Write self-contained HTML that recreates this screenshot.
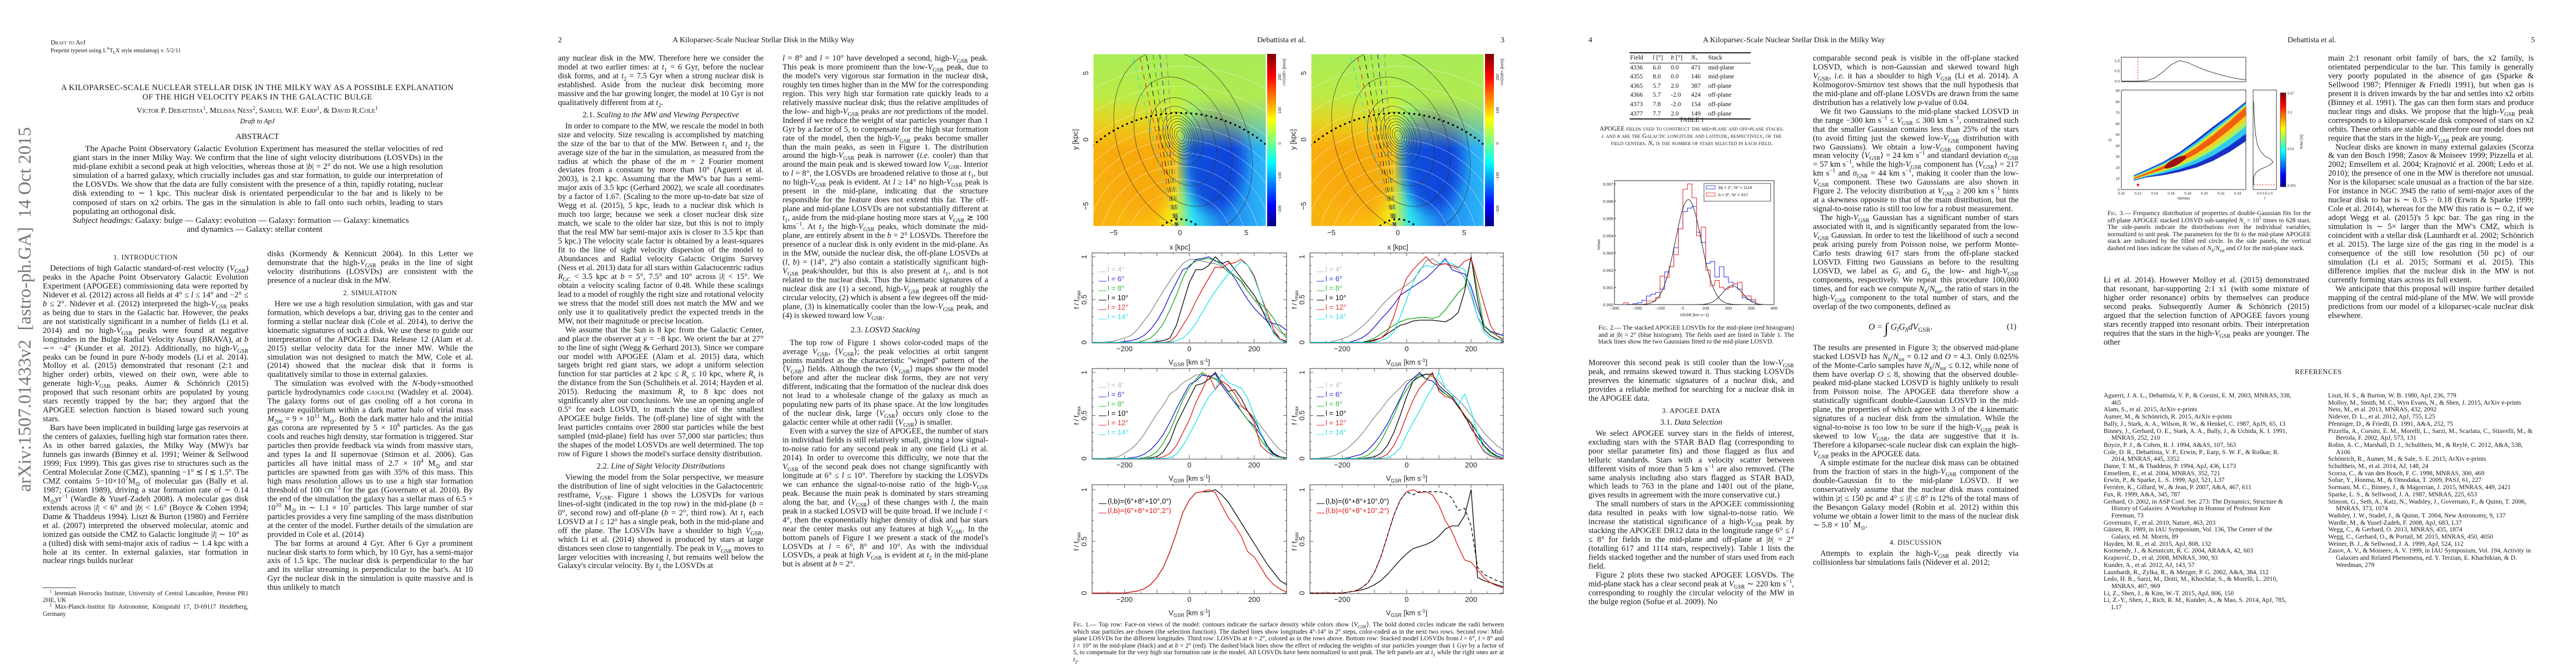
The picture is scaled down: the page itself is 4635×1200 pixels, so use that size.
<!DOCTYPE html>
<html><head><meta charset="utf-8">
<style>
html,body{margin:0;padding:0;background:#fff;}
body{width:4635px;height:1200px;position:relative;overflow:hidden;font-family:"Liberation Serif",serif;color:#151515;}
.abs{position:absolute;}
.hdr{position:absolute;top:65px;font-size:14px;white-space:nowrap;}
.col{position:absolute;width:370px;font-size:14.6px;line-height:15.95px;text-align:justify;overflow:hidden;hyphens:auto;}
.col p{margin:0;text-indent:13px;}
.col p.ni{text-indent:0}
.sec{text-align:center;font-size:12.5px;letter-spacing:0.6px;margin:5px 0 5px 0;line-height:16px;}
.sub{text-align:center;margin:5px 0;line-height:16px;}
sup,sub{font-size:70%;line-height:0;}
.cap{position:absolute;font-size:11.6px;line-height:12.6px;text-align:justify;}
.sc{font-variant:small-caps;}
.refs{position:absolute;width:340px;font-size:11.6px;line-height:12.7px;}
.refs div{padding-left:14px;text-indent:-14px;}
svg text{font-family:"Liberation Sans",sans-serif;}
</style></head>
<body>

<!-- arXiv stamp -->
<div class="abs" style="left:-275px;top:545px;width:640px;height:40px;transform:rotate(-90deg);font-size:33px;color:#777;white-space:nowrap;text-align:center;line-height:40px;">arXiv:1507.01433v2&nbsp; [astro-ph.GA]&nbsp; 14 Oct 2015</div>

<!-- PAGE 1 -->
<div class="abs" style="left:91px;top:69px;font-size:12px;line-height:14px;"><span class="sc">Draft to ApJ</span><br><span style="font-size:10.5px">Preprint typeset using L<sup>A</sup>T<sub>E</sub>X style emulateapj v. 5/2/11</span></div>
<div class="abs" style="left:60px;top:150px;width:806px;text-align:center;font-size:14.6px;line-height:16.5px;letter-spacing:0.35px;">A KILOPARSEC-SCALE NUCLEAR STELLAR DISK IN THE MILKY WAY AS A POSSIBLE EXPLANATION<br>OF THE HIGH VELOCITY PEAKS IN THE GALACTIC BULGE</div>
<div class="abs" style="left:60px;top:192px;width:806px;text-align:center;font-size:14px;"><span class="sc">Victor P. Debattista<sup>1</sup>, Melissa Ness<sup>2</sup>, Samuel W.F. Earp<sup>1</sup>, &amp; David R.Cole<sup>1</sup></span></div>
<div class="abs" style="left:60px;top:211px;width:806px;text-align:center;font-size:12.5px;font-style:italic;">Draft to ApJ</div>
<div class="abs" style="left:60px;top:238px;width:806px;text-align:center;font-size:15px;">ABSTRACT</div>
<div class="abs" style="left:131px;top:260px;width:666px;font-size:15.2px;line-height:16.1px;text-align:justify;">
<div style="text-indent:22px">The Apache Point Observatory Galactic Evolution Experiment has measured the stellar velocities of red giant stars in the inner Milky Way. We confirm that the line of sight velocity distributions (LOSVDs) in the mid-plane exhibit a second peak at high velocities, whereas those at |<i>b</i>| = 2° do not. We use a high resolution simulation of a barred galaxy, which crucially includes gas and star formation, to guide our interpretation of the LOSVDs. We show that the data are fully consistent with the presence of a thin, rapidly rotating, nuclear disk extending to ∼ 1 kpc. This nuclear disk is orientated perpendicular to the bar and is likely to be composed of stars on x2 orbits. The gas in the simulation is able to fall onto such orbits, leading to stars populating an orthogonal disk.</div>
<div style="text-align:justify;"><i>Subject headings:</i> Galaxy: bulge — Galaxy: evolution — Galaxy: formation — Galaxy: kinematics</div>
<div style="padding-left:205px;">and dynamics — Galaxy: stellar content</div>
</div>

<div class="col" style="left:77px;top:450px;height:600px;font-size:14.7px;">
<div class="sec">1. INTRODUCTION</div>
<p>Detections of high Galactic standard-of-rest velocity (<i>V</i><sub>GSR</sub>) peaks in the Apache Point Observatory Galactic Evolution Experiment (APOGEE) commissioning data were reported by Nidever et al. (2012) across all fields at 4° ≤ <i>l</i> ≤ 14° and −2° ≤ <i>b</i> ≤ 2°. Nidever et al. (2012) interpreted the high-<i>V</i><sub>GSR</sub> peaks as being due to stars in the Galactic bar. However, the peaks are not statistically significant in a number of fields (Li et al. 2014) and no high-<i>V</i><sub>GSR</sub> peaks were found at negative longitudes in the Bulge Radial Velocity Assay (BRAVA), at <i>b</i> ∼= −4° (Kunder et al. 2012). Additionally, no high-<i>V</i><sub>GSR</sub> peaks can be found in pure <i>N</i>-body models (Li et al. 2014). Molloy et al. (2015) demonstrated that resonant (2:1 and higher order) orbits, viewed on their own, were able to generate high-<i>V</i><sub>GSR</sub> peaks. Aumer &amp; Schönrich (2015) proposed that such resonant orbits are populated by young stars recently trapped by the bar; they argued that the APOGEE selection function is biased toward such young stars.</p>
<p>Bars have been implicated in building large gas reservoirs at the centers of galaxies, fuelling high star formation rates there. As in other barred galaxies, the Milky Way (MW)'s bar funnels gas inwards (Binney et al. 1991; Weiner &amp; Sellwood 1999; Fux 1999). This gas gives rise to structures such as the Central Molecular Zone (CMZ), spanning −1° ≲ <i>l</i> ≲ 1.5°. The CMZ contains 5−10×10<sup>7</sup>M<sub>⊙</sub> of molecular gas (Bally et al. 1987; Güsten 1989), driving a star formation rate of ∼ 0.14 M<sub>⊙</sub>yr<sup>−1</sup> (Wardle &amp; Yusef-Zadeh 2008). A molecular gas disk extends across |<i>l</i>| &lt; 6° and |<i>b</i>| &lt; 1.6° (Boyce &amp; Cohen 1994; Dame &amp; Thaddeus 1994). Liszt &amp; Burton (1980) and Ferrière et al. (2007) interpreted the observed molecular, atomic and ionized gas outside the CMZ to Galactic longitude |<i>l</i>| ∼ 10° as a (tilted) disk with semi-major axis of radius ∼ 1.4 kpc with a hole at its center. In external galaxies, star formation in nuclear rings builds nuclear</p>
</div>
<div class="abs" style="left:77px;top:1057px;width:60px;border-top:1px solid #444;"></div>
<div class="abs" style="left:77px;top:1062px;width:370px;font-size:11.2px;line-height:12.2px;text-align:justify;">
<div style="text-indent:12px"><sup>1</sup> Jeremiah Horrocks Institute, University of Central Lancashire, Preston PR1 2HE, UK</div>
<div style="text-indent:12px"><sup>2</sup> Max-Planck-Institut für Astronomie, Königstuhl 17, D-69117 Heidelberg, Germany</div></div>

<div class="col" style="left:481px;top:450px;height:662px;font-size:14.7px;">
<p class="ni">disks (Kormendy &amp; Kennicutt 2004). In this Letter we demonstrate that the high-<i>V</i><sub>GSR</sub> peaks in the line of sight velocity distributions (LOSVDs) are consistent with the presence of a nuclear disk in the MW.</p>
<div class="sec">2. SIMULATION</div>
<p>Here we use a high resolution simulation, with gas and star formation, which develops a bar, driving gas to the center and forming a stellar nuclear disk (Cole et al. 2014), to derive the kinematic signatures of such a disk. We use these to guide our interpretation of the APOGEE Data Release 12 (Alam et al. 2015) stellar velocity data for the inner MW. While the simulation was not designed to match the MW, Cole et al. (2014) showed that the nuclear disk that it forms is qualitatively similar to those in external galaxies.</p>
<p>The simulation was evolved with the <i>N</i>-body+smoothed particle hydrodynamics code <span class="sc">gasoline</span> (Wadsley et al. 2004). The galaxy forms out of gas cooling off a hot corona in pressure equilibrium within a dark matter halo of virial mass <i>M</i><sub>200</sub> = 9 × 10<sup>11</sup> M<sub>⊙</sub>. Both the dark matter halo and the initial gas corona are represented by 5 × 10<sup>6</sup> particles. As the gas cools and reaches high density, star formation is triggered. Star particles then provide feedback via winds from massive stars, and types Ia and II supernovae (Stinson et al. 2006). Gas particles all have initial mass of 2.7 × 10<sup>4</sup> M<sub>⊙</sub> and star particles are spawned from gas with 35% of this mass. This high mass resolution allows us to use a high star formation threshold of 100 cm<sup>−3</sup> for the gas (Governato et al. 2010). By the end of the simulation the galaxy has a stellar mass of 6.5 × 10<sup>10</sup> M<sub>⊙</sub> in ∼ 1.1 × 10<sup>7</sup> particles. This large number of star particles provides a very fine sampling of the mass distribution at the center of the model. Further details of the simulation are provided in Cole et al. (2014)</p>
<p>The bar forms at around 4 Gyr. After 6 Gyr a prominent nuclear disk starts to form which, by 10 Gyr, has a semi-major axis of 1.5 kpc. The nuclear disk is perpendicular to the bar and its stellar streaming is perpendicular to the bar's. At 10 Gyr the nuclear disk in the simulation is quite massive and is thus unlikely to match</p>
</div>

<!-- PAGE 2/3 headers -->
<div class="hdr" style="left:1004px;">2</div>
<div class="hdr" style="left:1210px;">A Kiloparsec-Scale Nuclear Stellar Disk in the Milky Way</div>
<div class="hdr" style="left:2262px;">Debattista et al.</div>
<div class="hdr" style="left:2700px;">3</div>

<div class="col" style="left:1004px;top:98px;height:1016px;">
<p class="ni">any nuclear disk in the MW. Therefore here we consider the model at two earlier times: at <i>t</i><sub>1</sub> = 6 Gyr, before the nuclear disk forms, and at <i>t</i><sub>2</sub> = 7.5 Gyr when a strong nuclear disk is established. Aside from the nuclear disk becoming more massive and the bar growing longer, the model at 10 Gyr is not qualitatively different from at <i>t</i><sub>2</sub>.</p>
<div class="sub">2.1. <i>Scaling to the MW and Viewing Perspective</i></div>
<p>In order to compare to the MW, we rescale the model in both size and velocity. Size rescaling is accomplished by matching the size of the bar to that of the MW. Between <i>t</i><sub>1</sub> and <i>t</i><sub>2</sub> the average size of the bar in the simulation, as measured from the radius at which the phase of the <i>m</i> = 2 Fourier moment deviates from a constant by more than 10° (Aguerri et al. 2003), is 2.1 kpc. Assuming that the MW's bar has a semi-major axis of 3.5 kpc (Gerhard 2002), we scale all coordinates by a factor of 1.67. (Scaling to the more up-to-date bar size of Wegg et al. (2015), 5 kpc, leads to a nuclear disk which is much too large; because we seek a closer nuclear disk size match, we scale to the older bar size, but this is not to imply that the real MW bar semi-major axis is closer to 3.5 kpc than 5 kpc.) The velocity scale factor is obtained by a least-squares fit to the line of sight velocity dispersion of the model to Abundances and Radial velocity Galactic Origins Survey (Ness et al. 2013) data for all stars within Galactocentric radius <i>R</i><sub>GC</sub> &lt; 3.5 kpc at <i>b</i> = 5°, 7.5° and 10° across |<i>l</i>| &lt; 15°. We obtain a velocity scaling factor of 0.48. While these scalings lead to a model of roughly the right size and rotational velocity we stress that the model still does not match the MW and we only use it to qualitatively predict the expected trends in the MW, not their magnitude or precise location.</p>
<p>We assume that the Sun is 8 kpc from the Galactic Center, and place the observer at <i>y</i> = −8 kpc. We orient the bar at 27° to the line of sight (Wegg &amp; Gerhard 2013). Since we compare our model with APOGEE (Alam et al. 2015) data, which targets bright red giant stars, we adopt a uniform selection function for star particles at 2 kpc ≤ <i>R</i><sub>s</sub> ≤ 10 kpc, where <i>R</i><sub>s</sub> is the distance from the Sun (Schultheis et al. 2014; Hayden et al. 2015). Reducing the maximum <i>R</i><sub>s</sub> to 8 kpc does not significantly alter our conclusions. We use an opening angle of 0.5° for each LOSVD, to match the size of the smallest APOGEE bulge fields. The (off-plane) line of sight with the least particles contains over 2800 star particles while the best sampled (mid-plane) field has over 57,000 star particles; thus the shapes of the model LOSVDs are well determined. The top row of Figure 1 shows the model's surface density distribution.</p>
<div class="sub">2.2. <i>Line of Sight Velocity Distributions</i></div>
<p>Viewing the model from the Solar perspective, we measure the distribution of line of sight velocities in the Galactocentric restframe, <i>V</i><sub>GSR</sub>. Figure 1 shows the LOSVDs for various lines-of-sight (indicated in the top row) in the mid-plane (<i>b</i> = 0°, second row) and off-plane (<i>b</i> = 2°, third row). At <i>t</i><sub>1</sub> each LOSVD at <i>l</i> ≤ 12° has a single peak, both in the mid-plane and off the plane. The LOSVDs have a shoulder to high <i>V</i><sub>GSR</sub>, which Li et al. (2014) showed is produced by stars at large distances seen close to tangentially. The peak in <i>V</i><sub>GSR</sub> moves to larger velocities with increasing <i>l</i>, but remains well below the Galaxy's circular velocity. By <i>t</i><sub>2</sub> the LOSVDs at</p>
</div>

<div class="col" style="left:1408px;top:98px;height:1016px;">
<p class="ni"><i>l</i> = 8° and <i>l</i> = 10° have developed a second, high-<i>V</i><sub>GSR</sub> peak. This peak is more prominent than the low-<i>V</i><sub>GSR</sub> peak, due to the model's very vigorous star formation in the nuclear disk, roughly ten times higher than in the MW for the corresponding region. This very high star formation rate quickly leads to a relatively massive nuclear disk; thus the relative amplitudes of the low- and high-<i>V</i><sub>GSR</sub> peaks are <i>not</i> predictions of the model. Indeed if we reduce the weight of star particles younger than 1 Gyr by a factor of 5, to compensate for the high star formation rate of the model, then the high-<i>V</i><sub>GSR</sub> peaks become smaller than the main peaks, as seen in Figure 1. The distribution around the high-<i>V</i><sub>GSR</sub> peak is narrower (<i>i.e.</i> cooler) than that around the main peak and is skewed toward low <i>V</i><sub>GSR</sub>. Interior to <i>l</i> = 8°, the LOSVDs are broadened relative to those at <i>t</i><sub>1</sub>, but no high-<i>V</i><sub>GSR</sub> peak is evident. At <i>l</i> ≥ 14° no high-<i>V</i><sub>GSR</sub> peak is present in the mid-plane, indicating that the structure responsible for the feature does not extend this far. The off-plane and mid-plane LOSVDs are not substantially different at <i>t</i><sub>1</sub>, aside from the mid-plane hosting more stars at <i>V</i><sub>GSR</sub> ≳ 100 kms<sup>−1</sup>. At <i>t</i><sub>2</sub> the high-<i>V</i><sub>GSR</sub> peaks, which dominate the mid-plane, are entirely absent in the <i>b</i> = 2° LOSVDs. Therefore the presence of a nuclear disk is only evident in the mid-plane. As in the MW, outside the nuclear disk, the off-plane LOSVDs at (<i>l</i>, <i>b</i>) = (14°, 2°) also contain a statistically significant high-<i>V</i><sub>GSR</sub> peak/shoulder, but this is also present at <i>t</i><sub>1</sub>, and is not related to the nuclear disk. Thus the kinematic signatures of a nuclear disk are (1) a second, high-<i>V</i><sub>GSR</sub> peak at roughly the circular velocity, (2) which is absent a few degrees off the mid-plane, (3) is kinematically cooler than the low-<i>V</i><sub>GSR</sub> peak, and (4) is skewed toward low <i>V</i><sub>GSR</sub>.</p>
<div class="sub" style="margin-top:9px;margin-bottom:8px">2.3. <i>LOSVD Stacking</i></div>
<p>The top row of Figure 1 shows color-coded maps of the average <i>V</i><sub>GSR</sub>, ⟨<i>V</i><sub>GSR</sub>⟩; the peak velocities at orbit tangent points manifest as the characteristic "winged" pattern of the ⟨<i>V</i><sub>GSR</sub>⟩ fields. Although the two ⟨<i>V</i><sub>GSR</sub>⟩ maps show the model before and after the nuclear disk forms, they are not very different, indicating that the formation of the nuclear disk does not lead to a wholesale change of the galaxy as much as populating new parts of its phase space. At the low longitudes of the nuclear disk, large ⟨<i>V</i><sub>GSR</sub>⟩ occurs only close to the galactic center while at other radii ⟨<i>V</i><sub>GSR</sub>⟩ is smaller.</p>
<p>Even with a survey the size of APOGEE, the number of stars in individual fields is still relatively small, giving a low signal-to-noise ratio for any second peak in any one field (Li et al. 2014). In order to overcome this difficulty, we note that the <i>V</i><sub>GSR</sub> of the second peak does not change significantly with longitude at 6° ≤ <i>l</i> ≤ 10°. Therefore by stacking the LOSVDs we can enhance the signal-to-noise ratio of the high-<i>V</i><sub>GSR</sub> peak. Because the main peak is dominated by stars streaming along the bar, and ⟨<i>V</i><sub>GSR</sub>⟩ of these changes with <i>l</i>, the main peak in a stacked LOSVD will be quite broad. If we include <i>l</i> &lt; 4°, then the exponentially higher density of disk and bar stars near the center masks out any features at high <i>V</i><sub>GSR</sub>. In the bottom panels of Figure 1 we present a stack of the model's LOSVDs at <i>l</i> = 6°, 8° and 10°. As with the individual LOSVDs, a peak at high <i>V</i><sub>GSR</sub> is evident at <i>t</i><sub>2</sub> in the mid-plane but is absent at <i>b</i> = 2°.</p>
</div>

<div class="cap" style="left:1931px;top:1118px;width:775px;"><span class="sc">Fig. 1.</span>— Top row: Face-on views of the model: contours indicate the surface density while colors show ⟨<i>V</i><sub>GSR</sub>⟩. The bold dotted circles indicate the radii between which star particles are chosen (the selection function). The dashed lines show longitudes 4°-14° in 2° steps, color-coded as in the next two rows. Second row: Mid-plane LOSVDs for the different longitudes. Third row: LOSVDs at <i>b</i> = 2°, colored as in the rows above. Bottom row: Stacked model LOSVDs from <i>l</i> = 6°, <i>l</i> = 8° and <i>l</i> = 10° in the mid-plane (black) and at <i>b</i> = 2° (red). The dashed black lines show the effect of reducing the weights of star particles younger than 1 Gyr by a factor of 5, to compensate for the very high star formation rate in the model. All LOSVDs have been normalized to unit peak. The left panels are at <i>t</i><sub>1</sub> while the right ones are at <i>t</i><sub>2</sub>.</div>

<!-- PAGE 4/5 headers -->
<div class="hdr" style="left:2858px;">4</div>
<div class="hdr" style="left:3064px;">A Kiloparsec-Scale Nuclear Stellar Disk in the Milky Way</div>
<div class="hdr" style="left:4116px;">Debattista et al.</div>
<div class="hdr" style="left:4554px;">5</div>

<!-- Table 1 -->
<div class="abs" style="left:2932px;top:94px;width:218px;border-top:2px solid #222;border-bottom:2px solid #222;font-size:11.5px;line-height:14.6px;">
<table style="border-collapse:collapse;width:100%;font-size:11.5px;">
<tr style="border-bottom:1px solid #222;"><td>Field</td><td><i>l</i> [°]</td><td><i>b</i> [°]</td><td><i>N</i><sub>*</sub></td><td>Stack</td></tr>
<tr><td>4336</td><td>6.0</td><td>0.0</td><td>471</td><td>mid-plane</td></tr>
<tr><td>4355</td><td>8.0</td><td>0.0</td><td>146</td><td>mid-plane</td></tr>
<tr><td>4365</td><td>5.7</td><td>2.0</td><td>387</td><td>off-plane</td></tr>
<tr><td>4366</td><td>5.7</td><td>-2.0</td><td>424</td><td>off-plane</td></tr>
<tr><td>4373</td><td>7.8</td><td>-2.0</td><td>154</td><td>off-plane</td></tr>
<tr><td>4377</td><td>7.7</td><td>2.0</td><td>149</td><td>off-plane</td></tr></table></div>
<div class="abs" style="left:2876px;top:210px;width:336px;text-align:center;font-size:11.4px;line-height:13px;">TABLE 1<br><span class="sc" style="display:block;margin-top:3px">APOGEE fields used to construct the mid-plane and off-plane stacks. <i>l</i> and <i>b</i> are the Galactic longitude and latitude, respectively, of the field centers. <i>N</i><sub>*</sub> is the number of stars selected in each field.</span></div>

<div class="cap" style="left:2876px;top:584px;width:352px;"><span class="sc">Fig. 2.</span>— The stacked APOGEE LOSVDs for the mid-plane (red histogram) and at |<i>b</i>| = 2° (blue histogram). The fields used are listed in Table 1. The black lines show the two Gaussians fitted to the mid-plane LOSVD.</div>

<div class="col" style="left:2858px;top:646px;height:468px;">
<p class="ni">Moreover this second peak is still cooler than the low-<i>V</i><sub>GSR</sub> peak, and remains skewed toward it. Thus stacking LOSVDs preserves the kinematic signatures of a nuclear disk, and provides a reliable method for searching for a nuclear disk in the APOGEE data.</p>
<div class="sec">3. APOGEE DATA</div>
<div class="sub" style="margin-top:0">3.1. <i>Data Selection</i></div>
<p>We select APOGEE survey stars in the fields of interest, excluding stars with the STAR BAD flag (corresponding to poor stellar parameter fits) and those flagged as flux and telluric standards. Stars with a velocity scatter between different visits of more than 5 km s<sup>−1</sup> are also removed. (The same analysis including also stars flagged as STAR BAD, which leads to 763 in the plane and 1401 out of the plane, gives results in agreement with the more conservative cut.)</p>
<p>The small numbers of stars in the APOGEE commissioning data resulted in peaks with low signal-to-noise ratio. We increase the statistical significance of a high-<i>V</i><sub>GSR</sub> peak by stacking the APOGEE DR12 data in the longitude range 6° ≤ <i>l</i> ≤ 8° for fields in the mid-plane and off-plane at |<i>b</i>| = 2° (totalling 617 and 1114 stars, respectively). Table 1 lists the fields stacked together and the number of stars used from each field.</p>
<p>Figure 2 plots these two stacked APOGEE LOSVDs. The mid-plane stack has a clear second peak at <i>V</i><sub>GSR</sub> ∼ 220 km s<sup>−1</sup>, corresponding to roughly the circular velocity of the MW in the bulge region (Sofue et al. 2009). No</p>
</div>

<div class="col" style="left:3262px;top:98px;height:1016px;">
<p class="ni">comparable second peak is visible in the off-plane stacked LOSVD, which is non-Gaussian and skewed toward high <i>V</i><sub>GSR</sub>, <i>i.e.</i> it has a shoulder to high <i>V</i><sub>GSR</sub> (Li et al. 2014). A Kolmogorov-Smirnov test shows that the null hypothesis that the mid-plane and off-plane LOSVDs are drawn from the same distribution has a relatively low <i>p</i>-value of 0.04.</p>
<p>We fit two Gaussians to the mid-plane stacked LOSVD in the range −300 km s<sup>−1</sup> ≤ <i>V</i><sub>GSR</sub> ≤ 300 km s<sup>−1</sup>, constrained such that the smaller Gaussian contains less than 25% of the stars (to avoid fitting just the skewed low-<i>V</i><sub>GSR</sub> distribution with two Gaussians). We obtain a low-<i>V</i><sub>GSR</sub> component having mean velocity ⟨<i>V</i><sub>GSR</sub>⟩ = 24 km s<sup>−1</sup> and standard deviation <i>σ</i><sub>GSR</sub> = 57 km s<sup>−1</sup>, while the high-<i>V</i><sub>GSR</sub> component has ⟨<i>V</i><sub>GSR</sub>⟩ = 217 km s<sup>−1</sup> and <i>σ</i><sub>GSR</sub> = 44 km s<sup>−1</sup>, making it cooler than the low-<i>V</i><sub>GSR</sub> component. These two Gaussians are also shown in Figure 2. The velocity distribution at <i>V</i><sub>GSR</sub> ≥ 200 km s<sup>−1</sup> hints at a skewness opposite to that of the main distribution, but the signal-to-noise ratio is still too low for a robust measurement.</p>
<p>The high-<i>V</i><sub>GSR</sub> Gaussian has a significant number of stars associated with it, and is significantly separated from the low-<i>V</i><sub>GSR</sub> Gaussian. In order to test the likelihood of such a second peak arising purely from Poisson noise, we perform Monte-Carlo tests drawing 617 stars from the off-plane stacked LOSVD. Fitting two Gaussians as before to the resulting LOSVD, we label as <i>G<sub>l</sub></i> and <i>G<sub>h</sub></i> the low- and high-<i>V</i><sub>GSR</sub> components, respectively. We repeat this procedure 100,000 times, and for each we compute <i>N<sub>h</sub></i>/<i>N</i><sub>tot</sub>, the ratio of stars in the high-<i>V</i><sub>GSR</sub> component to the total number of stars, and the overlap of the two components, defined as</p>
<div style="position:relative;height:58px;"><span style="position:absolute;left:100px;top:20px;font-size:16px;"><i>O</i> = <span style="font-size:26px;vertical-align:-6px">∫</span> <i>G<sub>l</sub>G<sub>h</sub>dV</i><sub>GSR</sub>.</span><span style="position:absolute;right:4px;top:20px;">(1)</span></div>
<p class="ni">The results are presented in Figure 3; the observed mid-plane stacked LOSVD has <i>N<sub>h</sub></i>/<i>N</i><sub>tot</sub> = 0.12 and <i>O</i> = 4.3. Only 0.025% of the Monte-Carlo samples have <i>N<sub>h</sub></i>/<i>N</i><sub>tot</sub> ≤ 0.12, while none of them have overlap <i>O</i> ≤ 8, showing that the observed double-peaked mid-plane stacked LOSVD is highly unlikely to result from Poisson noise. The APOGEE data therefore show a statistically significant double-Gaussian LOSVD in the mid-plane, the properties of which agree with 3 of the 4 kinematic signatures of a nuclear disk from the simulation. While the signal-to-noise is too low to be sure if the high-<i>V</i><sub>GSR</sub> peak is skewed to low <i>V</i><sub>GSR</sub>, the data are suggestive that it is. Therefore a kiloparsec-scale nuclear disk can explain the high-<i>V</i><sub>GSR</sub> peaks in the APOGEE data.</p>
<p>A simple estimate for the nuclear disk mass can be obtained from the fraction of stars in the high-<i>V</i><sub>GSR</sub> component of the double-Gaussian fit to the mid-plane LOSVD. If we conservatively assume that the nuclear disk mass contained within |<i>z</i>| ≤ 150 pc and 4° ≤ |<i>l</i>| ≤ 8° is 12% of the total mass of the Besançon Galaxy model (Robin et al. 2012) within this volume we obtain a lower limit to the mass of the nuclear disk ∼ 5.8 × 10<sup>7</sup> M<sub>⊙</sub>.</p>
<div class="sec" style="margin-top:14px">4. DISCUSSION</div>
<p>Attempts to explain the high-<i>V</i><sub>GSR</sub> peak directly via collisionless bar simulations fails (Nidever et al. 2012;</p>
</div>

<div class="cap" style="left:3792px;top:378px;width:366px;"><span class="sc">Fig. 3.</span>— Frequency distribution of properties of double-Gaussian fits for the off-plane APOGEE stacked LOSVD sub-sampled <i>N</i><sub>s</sub> = 10<sup>5</sup> times to 628 stars. The side-panels indicate the distributions over the individual variables, normalized to unit peak. The parameters for the fit to the mid-plane APOGEE stack are indicated by the filled red circle. In the side panels, the vertical dashed red lines indicate the values of <i>N<sub>h</sub></i>/<i>N</i><sub>tot</sub> and <i>O</i> for the mid-plane stack.</div>

<div class="col" style="left:3785px;top:497px;height:132px;">
<p class="ni">Li et al. 2014). However Molloy et al. (2015) demonstrated that resonant, bar-supporting 2:1 x1 (with some mixture of higher order resonance) orbits by themselves can produce second peaks. Subsequently Aumer &amp; Schönrich (2015) argued that the selection function of APOGEE favors young stars recently trapped into resonant orbits. Their interpretation requires that the stars in the high-<i>V</i><sub>GSR</sub> peaks are younger. The other</p>
</div>

<div class="col" style="left:4189px;top:98px;height:512px;">
<p class="ni">main 2:1 resonant orbit family of bars, the x2 family, is orientated perpendicular to the bar. This family is generally very poorly populated in the absence of gas (Sparke &amp; Sellwood 1987; Pfenniger &amp; Friedli 1991), but when gas is present it is driven inwards by the bar and settles into x2 orbits (Binney et al. 1991). The gas can then form stars and produce nuclear rings and disks. We propose that the high-<i>V</i><sub>GSR</sub> peak corresponds to a kiloparsec-scale disk composed of stars on x2 orbits. These orbits are stable and therefore our model does not require that the stars in the high-<i>V</i><sub>GSR</sub> peak are young.</p>
<p>Nuclear disks are known in many external galaxies (Scorza &amp; van den Bosch 1998; Zasov &amp; Moiseev 1999; Pizzella et al. 2002; Emsellem et al. 2004; Krajnović et al. 2008; Ledo et al. 2010); the presence of one in the MW is therefore not unusual. Nor is the kiloparsec scale unusual as a fraction of the bar size. For instance in NGC 3945 the ratio of semi-major axes of the nuclear disk to bar is ∼ 0.15 − 0.18 (Erwin &amp; Sparke 1999; Cole et al. 2014), whereas for the MW this ratio is ∼ 0.2, if we adopt Wegg et al. (2015)'s 5 kpc bar. The gas ring in the simulation is ∼ 5× larger than the MW's CMZ, which is coincident with a stellar disk (Launhardt et al. 2002; Schönrich et al. 2015). The large size of the gas ring in the model is a consequence of the still low resolution (50 pc) of our simulation (Li et al. 2015; Sormani et al. 2015). This difference implies that the nuclear disk in the MW is not currently forming stars across its full extent.</p>
<p>We anticipate that this proposal will inspire further detailed mapping of the central mid-plane of the MW. We will provide predictions from our model of a kiloparsec-scale nuclear disk elsewhere.</p>
</div>

<div class="abs" style="left:3708px;top:662px;width:927px;text-align:center;font-size:12.5px;letter-spacing:0.6px;">REFERENCES</div>
<div class="refs" style="left:3785px;top:706px;">
<div>Aguerri, J. A. L., Debattista, V. P., &amp; Corsini, E. M. 2003, MNRAS, 338, 465</div>
<div>Alam, S., et al. 2015, ArXiv e-prints</div>
<div>Aumer, M., &amp; Schönrich, R. 2015, ArXiv e-prints</div>
<div>Bally, J., Stark, A. A., Wilson, R. W., &amp; Henkel, C. 1987, ApJS, 65, 13</div>
<div>Binney, J., Gerhard, O. E., Stark, A. A., Bally, J., &amp; Uchida, K. I. 1991, MNRAS, 252, 210</div>
<div>Boyce, P. J., &amp; Cohen, R. J. 1994, A&amp;AS, 107, 563</div>
<div>Cole, D. R., Debattista, V. P., Erwin, P., Earp, S. W. F., &amp; Roškar, R. 2014, MNRAS, 445, 3352</div>
<div>Dame, T. M., &amp; Thaddeus, P. 1994, ApJ, 436, L173</div>
<div>Emsellem, E., et al. 2004, MNRAS, 352, 721</div>
<div>Erwin, P., &amp; Sparke, L. S. 1999, ApJ, 521, L37</div>
<div>Ferrière, K., Gillard, W., &amp; Jean, P. 2007, A&amp;A, 467, 611</div>
<div>Fux, R. 1999, A&amp;A, 345, 787</div>
<div>Gerhard, O. 2002, in ASP Conf. Ser. 273: The Dynamics, Structure &amp; History of Galaxies: A Workshop in Honour of Professor Ken Freeman, 73</div>
<div>Governato, F., et al. 2010, Nature, 463, 203</div>
<div>Güsten, R. 1989, in IAU Symposium, Vol. 136, The Center of the Galaxy, ed. M. Morris, 89</div>
<div>Hayden, M. R., et al. 2015, ApJ, 808, 132</div>
<div>Kormendy, J., &amp; Kennicutt, R. C. 2004, ARA&amp;A, 42, 603</div>
<div>Krajnović, D., et al. 2008, MNRAS, 390, 93</div>
<div>Kunder, A., et al. 2012, AJ, 143, 57</div>
<div>Launhardt, R., Zylka, R., &amp; Mezger, P. G. 2002, A&amp;A, 384, 112</div>
<div>Ledo, H. R., Sarzi, M., Dotti, M., Khochfar, S., &amp; Morelli, L. 2010, MNRAS, 407, 969</div>
<div>Li, Z., Shen, J., &amp; Kim, W.-T. 2015, ApJ, 806, 150</div>
<div>Li, Z.-Y., Shen, J., Rich, R. M., Kunder, A., &amp; Mao, S. 2014, ApJ, 785, L17</div>
</div>
<div class="refs" style="left:4189px;top:706px;width:370px;">
<div>Liszt, H. S., &amp; Burton, W. B. 1980, ApJ, 236, 779</div>
<div>Molloy, M., Smith, M. C., Wyn Evans, N., &amp; Shen, J. 2015, ArXiv e-prints</div>
<div>Ness, M., et al. 2013, MNRAS, 432, 2092</div>
<div>Nidever, D. L., et al. 2012, ApJ, 755, L25</div>
<div>Pfenniger, D., &amp; Friedli, D. 1991, A&amp;A, 252, 75</div>
<div>Pizzella, A., Corsini, E. M., Morelli, L., Sarzi, M., Scarlata, C., Stiavelli, M., &amp; Bertola, F. 2002, ApJ, 573, 131</div>
<div>Robin, A. C., Marshall, D. J., Schultheis, M., &amp; Reylé, C. 2012, A&amp;A, 538, A106</div>
<div>Schönrich, R., Aumer, M., &amp; Sale, S. E. 2015, ArXiv e-prints</div>
<div>Schultheis, M., et al. 2014, AJ, 148, 24</div>
<div>Scorza, C., &amp; van den Bosch, F. C. 1998, MNRAS, 300, 469</div>
<div>Sofue, Y., Honma, M., &amp; Omodaka, T. 2009, PASJ, 61, 227</div>
<div>Sormani, M. C., Binney, J., &amp; Magorrian, J. 2015, MNRAS, 449, 2421</div>
<div>Sparke, L. S., &amp; Sellwood, J. A. 1987, MNRAS, 225, 653</div>
<div>Stinson, G., Seth, A., Katz, N., Wadsley, J., Governato, F., &amp; Quinn, T. 2006, MNRAS, 373, 1074</div>
<div>Wadsley, J. W., Stadel, J., &amp; Quinn, T. 2004, New Astronomy, 9, 137</div>
<div>Wardle, M., &amp; Yusef-Zadeh, F. 2008, ApJ, 683, L37</div>
<div>Wegg, C., &amp; Gerhard, O. 2013, MNRAS, 435, 1874</div>
<div>Wegg, C., Gerhard, O., &amp; Portail, M. 2015, MNRAS, 450, 4050</div>
<div>Weiner, B. J., &amp; Sellwood, J. A. 1999, ApJ, 524, 112</div>
<div>Zasov, A. V., &amp; Moiseev, A. V. 1999, in IAU Symposium, Vol. 194, Activity in Galaxies and Related Phenomena, ed. Y. Terzian, E. Khachikian, &amp; D. Weedman, 279</div>
</div>

<svg id="figs" class="abs" style="left:0;top:0;" width="4635" height="1200" xmlns="http://www.w3.org/2000/svg">
<defs>
<linearGradient id="jet" x1="0" y1="1" x2="0" y2="0">
<stop offset="0" stop-color="#00007f"/><stop offset="0.12" stop-color="#0000ff"/><stop offset="0.37" stop-color="#00ffff"/><stop offset="0.62" stop-color="#ffff00"/><stop offset="0.87" stop-color="#ff0000"/><stop offset="1" stop-color="#7f0000"/></linearGradient>
<linearGradient id="mapH" x1="0" y1="0" x2="1" y2="0">
<stop offset="0" stop-color="#f8b010"/><stop offset="0.35" stop-color="#fbbf12"/><stop offset="0.47" stop-color="#f4ee1a"/><stop offset="0.57" stop-color="#30e6f0"/><stop offset="0.75" stop-color="#2080f0"/><stop offset="1" stop-color="#2ab8f8"/></linearGradient>
<linearGradient id="mapV" x1="0" y1="0" x2="0" y2="1">
<stop offset="0" stop-color="#a8ec58" stop-opacity="1"/><stop offset="0.25" stop-color="#b8ee48" stop-opacity="0.95"/><stop offset="0.42" stop-color="#d8f030" stop-opacity="0.45"/><stop offset="0.55" stop-color="#e8f020" stop-opacity="0"/></linearGradient>
<filter id="blur8"><feGaussianBlur stdDeviation="12"/></filter>
<clipPath id="clipL"><rect x="1967" y="97" width="311" height="310"/></clipPath>
<clipPath id="clipR"><rect x="2359" y="97" width="311" height="310"/></clipPath>
</defs>
</svg>

<script>
// ===================== DATA =====================
// Fig 1 LOSVD velocity grid (km/s)
const vgrid = [-300,-280,-260,-240,-220,-200,-180,-160,-140,-120,-100,-80,-60,-40,-20,0,20,40,60,80,100,120,140,160,180,200,220,240,260,280,300];
const longitudes = [4,6,8,10,12,14];
const longColors = ['#888888','#1010d0','#10a010','#000000','#e01010','#10e0e8'];
const legendColors = ['#bbbbbb','#3030e0','#30c030','#000000','#e03030','#30e0f0'];
// Row 2: mid-plane, t1 (left) and t2 (right)
const midT1 = [
[0,0,0,0.01,0.03,0.05,0.08,0.15,0.25,0.35,0.48,0.6,0.72,0.83,0.92,0.97,0.97,0.95,0.93,0.92,0.88,0.84,0.78,0.7,0.6,0.5,0.4,0.3,0.2,0.12,0.08],
[0,0,0,0,0,0.01,0.02,0.04,0.08,0.15,0.25,0.38,0.55,0.7,0.85,0.88,0.97,0.98,1.0,0.95,0.93,0.85,0.75,0.62,0.5,0.4,0.32,0.25,0.22,0.2,0.14],
[0,0,0,0,0,0,0,0,0.02,0.05,0.12,0.22,0.38,0.55,0.75,0.9,0.95,0.97,0.98,0.96,0.9,0.82,0.78,0.72,0.6,0.5,0.45,0.38,0.28,0.15,0.05],
[0,0,0,0,0,0,0,0,0,0,0.01,0.02,0.05,0.2,0.45,0.7,0.85,0.85,0.9,1.0,0.92,0.95,0.85,0.75,0.65,0.55,0.42,0.25,0.12,0.04,0.01],
[0,0,0,0,0,0,0,0,0,0,0,0,0.01,0.08,0.2,0.32,0.48,0.62,0.75,0.88,0.87,0.92,0.93,0.97,0.9,0.78,0.55,0.35,0.15,0.04,0],
[0,0,0,0,0,0,0,0,0,0,0,0,0,0.02,0.05,0.12,0.22,0.35,0.48,0.6,0.7,0.8,0.87,0.95,0.9,0.75,0.55,0.3,0.1,0.02,0]];
const midT2 = [
[0,0,0,0,0.02,0.04,0.07,0.12,0.18,0.25,0.33,0.42,0.5,0.57,0.62,0.67,0.73,0.83,0.95,0.98,0.92,0.92,0.88,0.85,0.75,0.55,0.3,0.18,0.13,0.11,0.08],
[0,0,0,0,0,0,0,0.02,0.05,0.1,0.18,0.27,0.35,0.44,0.55,0.6,0.65,0.7,0.75,0.82,0.9,0.98,0.85,0.82,0.8,0.65,0.4,0.2,0.13,0.1,0.08],
[0,0,0,0,0,0,0,0,0,0.02,0.05,0.1,0.15,0.2,0.24,0.27,0.28,0.29,0.29,0.28,0.3,0.38,0.48,0.58,0.65,0.99,0.6,0.2,0.12,0.08,0.04],
[0,0,0,0,0,0,0,0,0,0.01,0.03,0.05,0.1,0.15,0.2,0.22,0.25,0.26,0.26,0.26,0.25,0.24,0.28,0.35,0.6,1.0,0.5,0.15,0.08,0.04,0.01],
[0,0,0,0,0,0,0,0,0,0,0.02,0.05,0.12,0.3,0.55,0.75,0.85,0.93,1.0,0.92,0.9,0.92,0.9,0.87,0.95,0.98,0.72,0.45,0.2,0.08,0.02],
[0,0,0,0,0,0,0,0,0,0,0,0.02,0.05,0.12,0.3,0.5,0.7,0.85,0.9,0.88,0.92,0.95,0.92,0.88,0.85,0.6,0.3,0.12,0.05,0.03,0.02]];
// Row 3: b = 2 deg
const offT1 = [
[0,0,0,0.01,0.02,0.06,0.11,0.18,0.28,0.4,0.52,0.62,0.75,0.8,0.88,0.92,0.97,0.98,0.95,0.92,0.85,0.75,0.65,0.6,0.55,0.48,0.38,0.28,0.18,0.1,0.05],
[0,0,0,0,0,0,0.01,0.02,0.05,0.1,0.18,0.28,0.42,0.58,0.72,0.86,0.9,0.97,0.95,0.98,0.85,0.75,0.65,0.55,0.45,0.38,0.28,0.15,0.06,0.02,0.01],
[0,0,0,0,0,0,0,0,0.01,0.03,0.08,0.18,0.32,0.5,0.68,0.82,0.92,1.0,0.95,0.93,0.88,0.78,0.68,0.55,0.45,0.35,0.22,0.12,0.05,0.02,0.01],
[0,0,0,0,0,0,0,0,0,0.01,0.02,0.08,0.2,0.4,0.55,0.7,0.85,0.87,0.92,1.0,0.88,0.78,0.8,0.7,0.55,0.45,0.3,0.15,0.05,0.02,0],
[0,0,0,0,0,0,0,0,0,0,0,0.02,0.06,0.15,0.3,0.45,0.65,0.8,0.97,0.8,0.9,0.85,0.75,0.62,0.55,0.42,0.15,0.08,0.03,0.02,0],
[0,0,0,0,0,0,0,0,0,0,0,0,0.01,0.05,0.15,0.28,0.42,0.58,0.72,0.8,0.98,0.88,0.85,0.82,0.7,0.5,0.3,0.12,0.03,0.01,0]];
const offT2 = [
[0,0,0.01,0.02,0.04,0.08,0.13,0.2,0.28,0.38,0.48,0.57,0.67,0.75,0.82,0.9,0.93,0.97,0.98,0.95,0.9,0.82,0.75,0.68,0.6,0.5,0.4,0.3,0.22,0.15,0.1],
[0,0,0,0,0,0,0.01,0.03,0.05,0.1,0.18,0.28,0.4,0.55,0.7,0.86,0.93,1.0,0.92,0.9,0.82,0.75,0.7,0.6,0.5,0.4,0.3,0.2,0.12,0.06,0.03],
[0,0,0,0,0,0,0,0,0.01,0.04,0.1,0.2,0.35,0.5,0.68,0.8,0.9,0.98,0.92,0.98,0.8,0.75,0.7,0.62,0.5,0.42,0.3,0.15,0.06,0.03,0.01],
[0,0,0,0,0,0,0,0,0,0.01,0.02,0.06,0.15,0.3,0.5,0.72,0.9,0.95,0.98,0.98,0.85,0.78,0.72,0.6,0.5,0.35,0.25,0.15,0.08,0.03,0.01],
[0,0,0,0,0,0,0,0,0,0,0,0.01,0.05,0.15,0.3,0.5,0.68,0.82,0.9,1.0,0.78,0.72,0.7,0.62,0.48,0.4,0.2,0.08,0.03,0.01,0],
[0,0,0,0,0,0,0,0,0,0,0,0,0.01,0.05,0.12,0.28,0.42,0.55,0.7,0.82,1.0,0.82,0.75,0.62,0.75,0.55,0.3,0.1,0.04,0.02,0.01]];
// Row 4: stacked
const stackT1Mid = [0,0,0,0,0,0,0.01,0.02,0.04,0.08,0.15,0.25,0.4,0.58,0.78,0.9,0.97,0.98,0.98,1.0,0.95,0.88,0.78,0.68,0.58,0.48,0.38,0.28,0.2,0.12,0.08];
const stackT1Off = [0,0,0,0,0,0,0.01,0.02,0.04,0.08,0.15,0.25,0.4,0.58,0.78,0.9,0.97,0.98,1.0,0.97,0.85,0.73,0.65,0.55,0.4,0.35,0.25,0.15,0.08,0.04,0.01];
const stackT2Mid = [0,0,0,0,0,0,0.01,0.02,0.03,0.05,0.08,0.12,0.18,0.25,0.32,0.38,0.43,0.45,0.47,0.5,0.55,0.62,0.65,0.65,0.75,1.0,0.15,0.12,0.1,0.08,0.06];
const stackT2Off = [0,0,0,0,0,0,0.01,0.02,0.05,0.1,0.2,0.35,0.55,0.75,0.9,0.98,1.0,0.97,0.98,0.95,0.85,0.7,0.6,0.45,0.32,0.3,0.22,0.15,0.1,0.07,0.05];
const stackT2Dashed = [0,0,0,0,0,0,0.01,0.02,0.05,0.1,0.2,0.35,0.55,0.75,0.9,0.98,0.95,0.98,0.98,0.98,0.98,0.97,0.92,0.8,0.82,0.65,0.25,0.18,0.15,0.12,0.1];
const yTicksLOSVD = [0,0.5,1];
const xTicksLOSVD = [-200,0,200];
// Fig 1 maps
const contourRadii = [0.35,0.55,0.75,0.95,1.15,1.35,1.6,2.0,3.0,4.4,6.2];
const sunY = -8;
const selectionRadii = [2,10];
const arcRadii = [4,5,6,7,8,9,10.5,12,13.5];
const mapTicks = [-5,0,5];
const cbarTicks = [-200,-100,0,100,200];
// Fig 2 histograms (bin left edges, width 20 km/s)
const histEdges = [-260,-240,-220,-200,-180,-160,-140,-120,-100,-80,-60,-40,-20,0,20,40,60,80,100,120,140,160,180,200,220,240,260,280,300,320];
const histMid = [0.0001,0,0,0,0,0.0002,0.0002,0.0004,0.00165,0.00157,0.0022,0.0029,0.0044,0.0067,0.0070,0.0062,0.0040,0.0045,0.0020,0.0011,0.0014,0.0010,0.0009,0.0010,0.0012,0.0013,0.0005,0.0005,0.0003,0];
const histOff = [0,0,0.00005,0.0001,0.00025,0.0005,0.0006,0.0007,0.0009,0.0019,0.0022,0.0033,0.0044,0.0054,0.0056,0.0057,0.0042,0.0036,0.0024,0.0025,0.0016,0.0022,0.0016,0.0013,0.0012,0.0009,0.0004,0.0003,0.0002,0];
const gaussMeans = [24,217];
const gaussSigmas = [57,44];
const gaussPeaks = [0.0061,0.0011];
const fig2XTicks = [-300,-200,-100,0,100,200,300,400];
const fig2YTicks = [0,0.001,0.002,0.003,0.004,0.005,0.006,0.007];
// Fig 3
const ridgeNh = [0.115,0.13,0.15,0.17,0.19,0.21,0.23,0.25];
const ridgeO = [10,14,20,27,36,47,60,74];
const upperO = [13,18,25,34,45,57,68,80];
const lowerO = [8,11,13,16,20,26,34,44];
const topNh = [0.10,0.11,0.12,0.13,0.14,0.15,0.16,0.17,0.18,0.19,0.20,0.21,0.22,0.23,0.24,0.25];
const topF = [0,0,0,0.02,0.15,0.45,0.8,1.0,0.9,0.72,0.55,0.42,0.3,0.2,0.12,0.06];
const sideO = [4,8,10,12,15,18,20,22,25,28,30,35,40,50,60,70,80];
const sideF = [0,0,0.0,0.02,0.1,0.3,0.55,0.8,1.0,0.85,0.6,0.35,0.2,0.1,0.05,0.02,0];
const obsNh = 0.12;
const obsO = 4.3;
const fig3XTicks = [0.10,0.12,0.14,0.16,0.18,0.20,0.22,0.24];
const fig3YTicks = [0,10,20,30,40,50,60,70,80,90];

// ===================== DRAWING =====================
const NS = 'http://www.w3.org/2000/svg';
const svg = document.getElementById('figs');
function mk(tag, attrs, parent) {
  const e = document.createElementNS(NS, tag);
  for (const k in attrs) e.setAttribute(k, attrs[k]);
  (parent || svg).appendChild(e);
  return e;
}
function txt(x, y, s, size, parent, extra) {
  const t = mk('text', Object.assign({x: x, y: y, 'font-size': size, fill: '#222', 'text-anchor': 'middle'}, extra || {}), parent);
  t.textContent = s;
  return t;
}

// ---------- LOSVD panels ----------
function losvdPanel(name, x0, x1, yTop, yOne, yZero, seriesList, colors, legend, dashedSeries) {
  const g = mk('g', {});
  
  
  const sx = v => x0 + (v + 300) / 600 * (x1 - x0);
  const sy = f => yZero - f * (yZero - yOne);
  const frame = mk('rect', {x: x0, y: yTop, width: x1 - x0, height: yZero - yTop + 1, fill: 'none', stroke: '#333', 'stroke-width': 1}, g);
  
  
  for (let v = -300; v <= 300; v += 50) {
    const big = v % 100 === 0;
    const tk = mk('line', {x1: sx(v), x2: sx(v), y1: yZero, y2: yZero - (big ? 6 : 3), stroke: '#333', 'stroke-width': 0.8}, g);
    
    
    const tk2 = mk('line', {x1: sx(v), x2: sx(v), y1: yTop, y2: yTop + (big ? 6 : 3), stroke: '#333', 'stroke-width': 0.8}, g);
    
    
  }
  xTicksLOSVD.forEach(v => {
    const t = txt(sx(v), yZero + 16, String(v).replace('-', '−'), 13, g);
    
    
  });
  for (let f = 0; f <= 1.0001; f += 0.1) {
    const big = Math.abs(f * 2 - Math.round(f * 2)) < 1e-6;
    const tk = mk('line', {x1: x0, x2: x0 + (big ? 6 : 3), y1: sy(f), y2: sy(f), stroke: '#333', 'stroke-width': 0.8}, g);
    
    
    const tk2 = mk('line', {x1: x1, x2: x1 - (big ? 6 : 3), y1: sy(f), y2: sy(f), stroke: '#333', 'stroke-width': 0.8}, g);
    
    
  }
  yTicksLOSVD.forEach(f => {
    const t = txt(x0 - 10, sy(f), String(f), 13, g, {transform: 'rotate(-90 ' + (x0 - 10) + ' ' + sy(f) + ')'});
    
    
  });
  const yl = txt(x0 - 24, (yOne + yZero) / 2, 'f / f', 12, g, {transform: 'rotate(-90 ' + (x0 - 24) + ' ' + ((yOne + yZero) / 2) + ')'});
  const ylsub = mk('tspan', {'font-size': 9, dy: 3}, yl); ylsub.textContent = 'max';
  
  
  const xl = txt((x0 + x1) / 2, yZero + 40, 'V', 13, g);
  const xs = mk('tspan', {'font-size': 9, dy: 3}, xl); xs.textContent = 'GSR';
  const xr = mk('tspan', {dy: -3}, xl); xr.textContent = ' [km s';
  const xsup = mk('tspan', {'font-size': 9, dy: -5}, xl); xsup.textContent = '-1';
  const xe = mk('tspan', {dy: 5}, xl); xe.textContent = ']';
  
  
  seriesList.forEach((vals, i) => {
    const pts = vals.map((f, j) => sx(vgrid[j]).toFixed(1) + ',' + sy(f).toFixed(1)).join(' ');
    const pl = mk('polyline', {points: pts, fill: 'none', stroke: colors[i], 'stroke-width': 1.3, 'stroke-linejoin': 'round'}, g);
    
    
  });
  if (dashedSeries) {
    const pts = dashedSeries.map((f, j) => sx(vgrid[j]).toFixed(1) + ',' + sy(f).toFixed(1)).join(' ');
    const pl = mk('polyline', {points: pts, fill: 'none', stroke: '#000', 'stroke-width': 1.3, 'stroke-dasharray': '6 4'}, g);
    
    
  }
  legend.forEach((lab, i) => {
    const ly = yTop + 30 + i * 17;
    const ll = mk('line', {x1: x0 + 12, x2: x0 + 26, y1: ly + 4, y2: ly + 4, stroke: lab.color, 'stroke-width': 1}, g);
    
    
    const lt = txt(x0 + 28, ly + 4, lab.text, 13, g, {'text-anchor': 'start', fill: lab.color});
    
    
  });
}
const longLegend = longitudes.map((l, i) => ({text: 'l = ' + l + '°', color: legendColors[i]}));
const stackLegend = [{text: '(l,b)=(6°+8°+10°,0°)', color: '#000'}, {text: '(l,b)=(6°+8°+10°,2°)', color: '#e01010'}];
losvdPanel('losvd-midplane-t1', 1965, 2315, 455, 462, 616, midT1, longColors, longLegend);
losvdPanel('losvd-midplane-t2', 2357, 2705, 455, 462, 616, midT2, longColors, longLegend);
losvdPanel('losvd-offplane-t1', 1965, 2315, 663, 670, 825, offT1, longColors, longLegend);
losvdPanel('losvd-offplane-t2', 2357, 2705, 663, 670, 825, offT2, longColors, longLegend);
losvdPanel('losvd-stacked-t1', 1965, 2315, 872, 881, 1067, [stackT1Mid, stackT1Off], ['#000', '#e01010'], stackLegend);
losvdPanel('losvd-stacked-t2', 2357, 2705, 872, 881, 1067, [stackT2Mid, stackT2Off], ['#000', '#e01010'], stackLegend, stackT2Dashed);

// ---------- Face-on maps ----------
function faceMap(name, mx0, clipId, tilt) {
  const g = mk('g', {});
  
  
  const scale = 23.9;
  const cx = mx0 + 156, cy = 251;
  const X = x => cx + x * scale;
  const Y = y => cy - y * scale;
  const c = mk('g', {'clip-path': 'url(#' + clipId + ')'}, g);
  const base = mk('rect', {x: mx0, y: 97, width: 311, height: 310, fill: 'url(#mapH)'}, c);
  
  
  const orange = mk('ellipse', {cx: X(-3), cy: Y(-2), rx: 70, ry: 90, fill: '#f8a808', opacity: 0.85, filter: 'url(#blur8)'}, c);
  
  
  const blue = mk('ellipse', {cx: X(2.6), cy: Y(-1.5), rx: 55, ry: 95, fill: '#1040d8', opacity: 0.9, filter: 'url(#blur8)'}, c);
  
  
  const top = mk('rect', {x: mx0, y: 97, width: 311, height: 310, fill: 'url(#mapV)'}, c);
  
  
  arcRadii.forEach(r => {
    const a = mk('circle', {cx: X(0), cy: Y(sunY), r: r * scale, fill: 'none', stroke: '#fff', 'stroke-opacity': 0.55, 'stroke-width': 0.8}, c);
    
    
  });
  contourRadii.forEach((r, i) => {
    const e = mk('ellipse', {cx: X(0.05), cy: Y(0.3 - (r > 2 ? 0.5 : 0)), rx: r * scale * 0.78, ry: r * scale * 1.15, fill: 'none', stroke: '#333', 'stroke-width': 0.7, transform: 'rotate(' + tilt + ' ' + X(0.05) + ' ' + Y(0.3) + ')'}, c);
    
    
  });
  longitudes.forEach((l, i) => {
    const t = Math.tan(l * Math.PI / 180);
    const ln = mk('line', {x1: X(-t * (-6.6 - sunY)), y1: Y(-6.6), x2: X(-t * (6.4 - sunY)), y2: Y(6.4), stroke: longColors[i], 'stroke-width': 1, 'stroke-dasharray': '9 7'}, c);
    
    
  });
  selectionRadii.forEach(r => {
    const s = mk('circle', {cx: X(0), cy: Y(sunY), r: r * scale, fill: 'none', stroke: '#000', 'stroke-width': 3.5, 'stroke-dasharray': '0.1 9', 'stroke-linecap': 'round'}, c);
    
    
  });
  const fr = mk('rect', {x: mx0, y: 97, width: 311, height: 310, fill: 'none', stroke: '#fff', 'stroke-width': 1}, g);
  
  
  mapTicks.forEach(v => {
    const tx = txt(X(v), 423, String(v).replace('-', '−'), 13, g);
    
    
    const ty = txt(mx0 - 9, Y(v), String(v).replace('-', '−'), 13, g, {transform: 'rotate(-90 ' + (mx0 - 9) + ' ' + Y(v) + ')'});
    
    
  });
  const xt = txt(X(0), 449, 'x [kpc]', 13, g);
  
  
  const yt = txt(mx0 - 28, Y(0), 'y [kpc]', 13, g, {transform: 'rotate(-90 ' + (mx0 - 28) + ' ' + Y(0) + ')'});
  
  
  const cb = mk('rect', {x: mx0 + 313, y: 97, width: 16, height: 310, fill: 'url(#jet)'}, g);
  
  
  cbarTicks.forEach(v => {
    const yy = 407 - (v + 250) / 520 * 310;
    const t = txt(mx0 + 338, yy, String(v).replace('-', '−'), 7, g, {transform: 'rotate(-90 ' + (mx0 + 338) + ' ' + yy + ')'});
    
    
  });
  const cbt = txt(mx0 + 346, 130, '<VGSR> [km/s]', 7, g, {transform: 'rotate(-90 ' + (mx0 + 346) + ' 130)'});
  
  
}
faceMap('velocity-map-t1', 1967, 'clipL', -22);
faceMap('velocity-map-t2', 2359, 'clipR', -22);

// ---------- Fig 2 ----------
(function () {
  const g = mk('g', {});
  
  
  const X0 = 2905, X1 = 3192, YT = 325, YB = 548;
  const sx = v => X0 + (v + 300) / 700 * (X1 - X0);
  const sy = f => YB - f / 0.007 * (YB - 331);
  const fr = mk('rect', {x: X0, y: YT, width: X1 - X0, height: YB - YT, fill: 'none', stroke: '#222', 'stroke-width': 1}, g);
  
  
  function stepPath(vals) {
    let d = 'M' + sx(histEdges[0]) + ',' + sy(0);
    vals.forEach((v, i) => { d += ' L' + sx(histEdges[i]) + ',' + sy(v) + ' L' + sx(histEdges[i] + 20) + ',' + sy(v); });
    d += ' L' + sx(histEdges[histEdges.length - 1] + 20) + ',' + sy(0);
    return d;
  }
  const hb = mk('path', {d: stepPath(histOff), fill: 'none', stroke: '#4050e8', 'stroke-width': 1.2}, g);
  
  
  const hr = mk('path', {d: stepPath(histMid), fill: 'none', stroke: '#e84040', 'stroke-width': 1.2}, g);
  
  
  gaussMeans.forEach((m, k) => {
    const pts = [];
    for (let v = -250; v <= 350; v += 5) pts.push(sx(v).toFixed(1) + ',' + sy(gaussPeaks[k] * Math.exp(-0.5 * Math.pow((v - m) / gaussSigmas[k], 2))).toFixed(1));
    const pl = mk('polyline', {points: pts.join(' '), fill: 'none', stroke: '#222', 'stroke-width': 1}, g);
    
    
  });
  fig2XTicks.forEach(v => {
    const t = txt(sx(v), YB + 9, String(v).replace('-', '−'), 7.5, g);
    
    
  });
  fig2YTicks.forEach(v => {
    const t = txt(X0 - 2, sy(v) + 3, v.toFixed(3), 7.5, g, {'text-anchor': 'end'});
    
    
    const tk = mk('line', {x1: X0, x2: X0 + 3, y1: sy(v), y2: sy(v), stroke: '#222'}, g);
    
    
  });
  const xt = txt((X0 + X1) / 2, YB + 21, 'VGSR [km s−1]', 7.5, g);
  
  
  const yt = txt(X0 - 26, 440, 'N/Ntot', 6.5, g, {transform: 'rotate(-90 ' + (X0 - 26) + ' 440)'});
  
  
  const lg = mk('rect', {x: 3066, y: 330, width: 120, height: 32, fill: '#fff', stroke: '#222', 'stroke-width': 0.8}, g);
  
  
  [['|b| = 2°, N* = 1114', '#4050e8'], ['b = 0°, N* = 617', '#e84040']].forEach((e, i) => {
    const sw = mk('rect', {x: 3070, y: 334 + i * 13, width: 16, height: 6, fill: 'none', stroke: e[1]}, g);
    
    
    const t = txt(3092, 340 + i * 13, e[0], 7.5, g, {'text-anchor': 'start'});
    
    
  });
})();

// ---------- Fig 3 ----------
(function () {
  const g = mk('g', {});
  
  
  const X0 = 3817, X1 = 4041;
  const sx = v => X0 + (v - 0.10) / 0.15 * (X1 - X0);
  const sy = o => 341 - o / 90 * (341 - 163);
  const fr = mk('rect', {x: X0, y: 162, width: X1 - X0, height: 179, fill: 'none', stroke: '#222', 'stroke-width': 0.9}, g);
  
  
  const layers = [[1.0, '#1830c8'], [0.78, '#30c8f0'], [0.55, '#a8f060'], [0.38, '#f8d020'], [0.22, '#f06010']];
  layers.forEach((L, k) => {
    const up = ridgeNh.map((n, i) => sx(n) + ',' + sy(ridgeO[i] + L[0] * (upperO[i] - ridgeO[i])));
    const lo = ridgeNh.map((n, i) => sx(n) + ',' + sy(ridgeO[i] - L[0] * (ridgeO[i] - lowerO[i]))).reverse();
    const p = mk('polygon', {points: up.concat(lo).join(' '), fill: L[1]}, g);
    
    
  });
  const core = mk('ellipse', {cx: sx(0.165), cy: sy(25), rx: 22, ry: 6, fill: '#a01010', transform: 'rotate(-28 ' + sx(0.165) + ' ' + sy(25) + ')'}, g);
  
  
  const obs = mk('circle', {cx: sx(obsNh), cy: sy(obsO), r: 2.3, fill: '#e82020'}, g);
  
  
  fig3XTicks.forEach(v => {
    const t = txt(sx(v), 350, v.toFixed(2), 6.5, g);
    
    
  });
  fig3YTicks.forEach(v => {
    const t = txt(X0 - 3, sy(v) + 2.5, String(v), 6.5, g, {'text-anchor': 'end'});
    
    
  });
  const xt = txt((X0 + X1) / 2, 359, 'Nh/Ntot', 6.5, g);
  
  
  const yt = txt(X0 - 18, 252, 'O', 7, g, {transform: 'rotate(-90 ' + (X0 - 18) + ' 252)'});
  
  
  // top panel
  const tf = mk('rect', {x: X0, y: 103, width: X1 - X0, height: 44, fill: 'none', stroke: '#222', 'stroke-width': 0.9}, g);
  
  
  const ty = f => 146 - f * 37;
  const tl = mk('polyline', {points: topNh.map((n, i) => sx(n) + ',' + ty(topF[i])).join(' '), fill: 'none', stroke: '#222', 'stroke-width': 0.9}, g);
  
  
  const td = mk('line', {x1: sx(obsNh), x2: sx(obsNh), y1: 104, y2: 146, stroke: '#e84040', 'stroke-dasharray': '3 2'}, g);
  
  
  [[0, '0.0'], [0.5, '0.5'], [1, '1.0']].forEach(e => {
    const t = txt(X0 - 3, ty(e[0]) + 2.5, e[1], 6.5, g, {'text-anchor': 'end'});
    
    
  });
  // side panel
  const sf = mk('rect', {x: 4054, y: 162, width: 42, height: 179, fill: 'none', stroke: '#222', 'stroke-width': 0.9}, g);
  
  
  const sl = mk('polyline', {points: sideO.map((o, i) => (4055 + sideF[i] * 35) + ',' + sy(o)).join(' '), fill: 'none', stroke: '#222', 'stroke-width': 0.9}, g);
  
  
  const sd = mk('line', {x1: 4055, x2: 4095, y1: sy(obsO), y2: sy(obsO), stroke: '#e84040', 'stroke-dasharray': '3 2'}, g);
  
  
  const st = txt(4075, 350, '0.0 0.5 1.0', 6, g);
  
  
  const sxl = txt(4075, 359, 'f', 6.5, g);
  
  
  const cb = mk('rect', {x: 4103, y: 167, width: 10, height: 169, fill: 'url(#jet)', stroke: '#222', 'stroke-width': 0.6}, g);
  
  
  [['0.37', 170], ['0.1', 204], ['0.01', 270], ['0.001', 336]].forEach(e => {
    const t = txt(4116, e[1], e[0], 6, g, {'text-anchor': 'start'});
    
    
  });
  const cbt = txt(4143, 255, 'N/Ns [%]', 6.5, g, {transform: 'rotate(-90 4143 255)'});
  
  
})();
</script>
</body></html>
